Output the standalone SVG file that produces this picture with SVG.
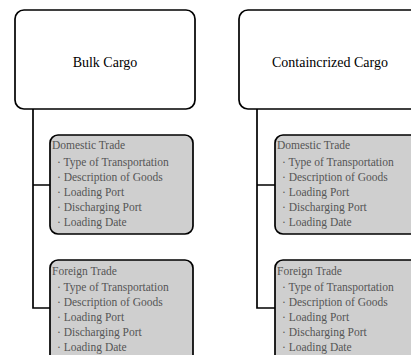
<svg xmlns="http://www.w3.org/2000/svg" width="411" height="355" viewBox="0 0 411 355">
<style>
.main{fill:#fff;stroke:#000;stroke-width:1.7}
.sub{fill:#cfcfcf;stroke:#000;stroke-width:1.7}
text{font-family:"Liberation Serif","Times New Roman",serif}
.title{font-size:14px;fill:#000;text-anchor:middle}
.item{font-size:11.5px;fill:#555}
.con{fill:none;stroke:#000;stroke-width:1.7}
</style>
<rect width="411" height="355" fill="#fff"/>
<g id="connectors">
<path class="con" d="M33 109 V308 H50 M33 185 H50"/>
<path class="con" d="M257 109 V308 H275 M257 185 H275"/>
</g>
<g id="bulk">
<rect class="main" x="15" y="10" width="180" height="99" rx="9"/>
<text class="title" x="105" y="67">Bulk Cargo</text>
</g>
<g id="container">
<rect class="main" x="239" y="10" width="190" height="99" rx="9"/>
<text class="title" x="330" y="67">Containcrized Cargo</text>
</g>
<g id="bulk-domestic">
<rect class="sub" x="50" y="135" width="143" height="99" rx="8"/>
<text class="item" x="52" y="149">Domestic Trade</text>
<text class="item" x="57" y="166">· Type of Transportation</text>
<text class="item" x="57" y="181">· Description of Goods</text>
<text class="item" x="57" y="196">· Loading Port</text>
<text class="item" x="57" y="211">· Discharging Port</text>
<text class="item" x="57" y="226">· Loading Date</text>
</g>
<g id="bulk-foreign">
<rect class="sub" x="50" y="260" width="143" height="110" rx="8"/>
<text class="item" x="52" y="275">Foreign Trade</text>
<text class="item" x="57" y="291">· Type of Transportation</text>
<text class="item" x="57" y="306">· Description of Goods</text>
<text class="item" x="57" y="321">· Loading Port</text>
<text class="item" x="57" y="336">· Discharging Port</text>
<text class="item" x="57" y="351">· Loading Date</text>
</g>
<g id="container-domestic">
<rect class="sub" x="275" y="135" width="150" height="99" rx="8"/>
<text class="item" x="277" y="149">Domestic Trade</text>
<text class="item" x="282" y="166">· Type of Transportation</text>
<text class="item" x="282" y="181">· Description of Goods</text>
<text class="item" x="282" y="196">· Loading Port</text>
<text class="item" x="282" y="211">· Discharging Port</text>
<text class="item" x="282" y="226">· Loading Date</text>
</g>
<g id="container-foreign">
<rect class="sub" x="275" y="260" width="150" height="110" rx="8"/>
<text class="item" x="277" y="275">Foreign Trade</text>
<text class="item" x="282" y="291">· Type of Transportation</text>
<text class="item" x="282" y="306">· Description of Goods</text>
<text class="item" x="282" y="321">· Loading Port</text>
<text class="item" x="282" y="336">· Discharging Port</text>
<text class="item" x="282" y="351">· Loading Date</text>
</g>
</svg>
